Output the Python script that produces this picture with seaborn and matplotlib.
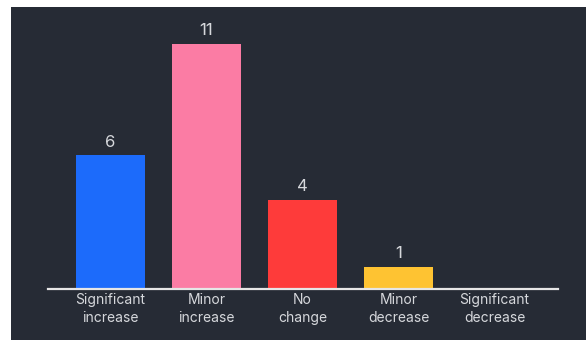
import matplotlib
matplotlib.use("Agg")
import matplotlib.pyplot as plt
from matplotlib.patches import Rectangle
import seaborn as sns
import pandas as pd

categories = ["Significant\nincrease", "Minor\nincrease", "No\nchange",
              "Minor\ndecrease", "Significant\ndecrease"]
counts = [6, 11, 4, 1, 0]
colors = ["#1C6BFB", "#FB7CA4", "#FE3B3A", "#FEC332", "#9AA0AA"]

bg = "#262B35"
text_color = "#D6D8DC"

sns.set_theme(style="white")
plt.rcParams["font.family"] = ["Inter", "DejaVu Sans"]

df = pd.DataFrame({"category": categories, "count": counts})

fig = plt.figure(figsize=(5.86, 3.40), dpi=100, facecolor="white")
# dark card behind the chart
fig.patches.append(Rectangle((11 / 586, 0), 1 - 11 / 586, 1 - 7 / 340,
                             transform=fig.transFigure, facecolor=bg,
                             edgecolor="none", zorder=-5))

ax = fig.add_axes([48 / 586, 51 / 340, 510 / 586, 0.787])
ax.set_facecolor("none")

sns.barplot(data=df, x="category", y="count", hue="category",
            palette=colors, legend=False, width=0.72, saturation=1,
            linewidth=0, ax=ax)

for patch, val in zip(ax.patches, counts):
    if val > 0:
        ax.annotate(str(val),
                    (patch.get_x() + patch.get_width() / 2, patch.get_height()),
                    xytext=(0, 4), textcoords="offset points",
                    ha="center", va="bottom", fontsize=12, color=text_color)

ax.set_xlim(-0.65, 4.66)
ax.set_ylim(0, 12)
ax.set_xlabel("")
ax.set_ylabel("")
ax.set_yticks([])
ax.tick_params(axis="x", length=0, pad=3, labelsize=10, labelcolor=text_color)
for lbl in ax.get_xticklabels():
    lbl.set_linespacing(1.35)

for side in ["top", "right", "left"]:
    ax.spines[side].set_visible(False)
ax.spines["bottom"].set_color("#E6E6E6")
ax.spines["bottom"].set_linewidth(1.6)

fig.savefig("out.png", dpi=100, facecolor=fig.get_facecolor())
